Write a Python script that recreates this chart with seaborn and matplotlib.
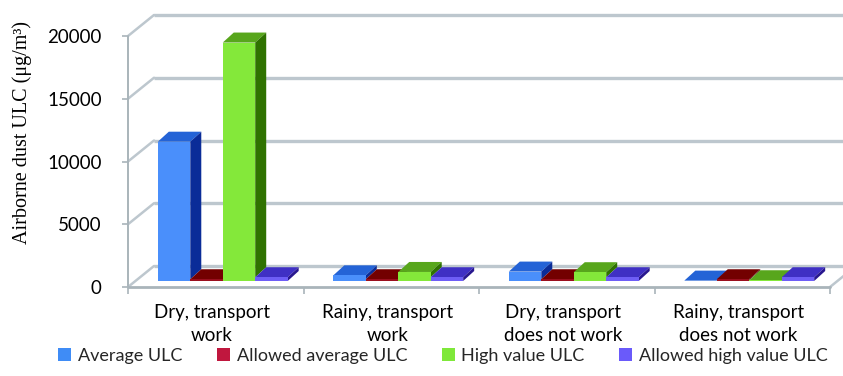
import matplotlib
matplotlib.use("Agg")
import matplotlib.pyplot as plt
import matplotlib.transforms as mtransforms
from matplotlib.patches import Polygon, Patch
import numpy as np
import pandas as pd
import seaborn as sns

# ---- data -------------------------------------------------------------
conditions = ["Dry, transport\nwork", "Rainy, transport\nwork",
              "Dry, transport\ndoes not work", "Rainy, transport\ndoes not work"]
series_names = ["Average ULC", "Allowed average ULC", "High value ULC",
                "Allowed high value ULC"]
average_ulc = [11100, 450, 750, 30]
allowed_average_ulc = [140, 140, 140, 140]
high_value_ulc = [19000, 720, 700, 60]
allowed_high_value_ulc = [300, 300, 300, 300]
y_ticks = [0, 5000, 10000, 15000, 20000]

series_values = [average_ulc, allowed_average_ulc, high_value_ulc,
                 allowed_high_value_ulc]

# ---- colours ----------------------------------------------------------
front_colors = ["#4A8FFB", "#9A0F1E", "#84E83A", "#6E5EF6"]
top_colors = ["#2463D6", "#730000", "#58A61C", "#3F30C4"]
side_colors = ["#0A2C98", "#4E0000", "#2F7200", "#28178F"]
legend_colors = ["#3F8CF6", "#C0173E", "#7FE83A", "#6A5AFA"]
grid_color = "#BDC7CE"
axis_color = "#A9B4BA"

sns.set_theme(style="white")
plt.rcParams["font.family"] = ["Lato", "DejaVu Sans"]

rows = []
for name, vals in zip(series_names, series_values):
    for cond, v in zip(conditions, vals):
        rows.append({"condition": cond, "series": name, "value": v})
df = pd.DataFrame(rows)

W, H = 843, 376
fig = plt.figure(figsize=(W / 100, H / 100), dpi=100)
ax_left, ax_right, ax_zero, ax_top = 128, 830, 287, 36
ax = fig.add_axes([ax_left / W, (H - ax_zero) / H,
                   (ax_right - ax_left) / W, (ax_zero - ax_top) / H])

bar_width = 0.74
sns.barplot(data=df, x="condition", y="value", hue="series",
            order=conditions, hue_order=series_names, palette=front_colors,
            saturation=1, width=bar_width, dodge=True, legend=False,
            linewidth=0, ax=ax)

ax.set_xlim(-0.5, 3.5)
ax.set_ylim(0, 20000)

# data units per pixel
ux = 4.0 / (ax_right - ax_left)
uy = 20000.0 / (ax_zero - ax_top)

# depth of the whole box and of the bars (pixels, oblique projection)
DX, DY = 26 * ux, 21 * uy
OX, OY = 7 * ux, 6 * uy
BX, BY = 11 * ux, 10 * uy

# ---- back wall, side wall and floor lines ----------------------------
for yv in y_ticks:
    ax.plot([-0.5 + DX, 4.2], [yv + DY, yv + DY], color=grid_color,
            lw=2.4, clip_on=False, zorder=1, solid_capstyle="butt")
    ax.plot([-0.5, -0.5 + DX], [yv, yv + DY], color=grid_color,
            lw=1.8, clip_on=False, zorder=1)
ax.plot([3.5, 3.5 + DX], [0, DY], color=grid_color, lw=1.8,
        clip_on=False, zorder=1)

# front axis lines
ax.plot([-0.5, -0.5], [0, 20000], color=axis_color, lw=1.4,
        clip_on=False, zorder=2)
ax.plot([-0.5, 3.5], [0, 0], color=axis_color, lw=2.0,
        clip_on=False, zorder=2)

# ---- 3D faces for every bar ------------------------------------------
sub_w = bar_width / len(series_names)
for p in list(ax.patches):
    x0 = p.get_x()
    w = p.get_width()
    h = p.get_height()
    xc = x0 + w / 2
    cat = int(round(xc))
    idx = int(round((xc - cat) / sub_w + 1.5))
    X0 = x0 + OX
    X1 = X0 + w
    Y0 = OY
    Y1 = Y0 + h
    p.set_x(X0)
    p.set_y(Y0)
    p.set_clip_on(False)
    p.set_zorder(4)
    top = Polygon([(X0, Y1), (X1, Y1), (X1 + BX, Y1 + BY), (X0 + BX, Y1 + BY)],
                  closed=True, facecolor=top_colors[idx], edgecolor="none",
                  clip_on=False, zorder=3)
    ax.add_patch(top)
    hc = series_values[idx + 1][cat] if idx < len(series_names) - 1 else 0
    if h > hc:
        side = Polygon([(X1, Y0 + hc), (X1, Y1), (X1 + BX, Y1 + BY),
                        (X1 + BX, Y0 + hc + BY)],
                       closed=True, facecolor=side_colors[idx],
                       edgecolor="none", clip_on=False, zorder=3)
        ax.add_patch(side)

# ---- ticks and labels ------------------------------------------------
for s in ax.spines.values():
    s.set_visible(False)
ax.set_yticks(y_ticks)
ax.set_yticklabels([str(v) for v in y_ticks])
ax.tick_params(axis="y", left=True, direction="out", length=4, width=1.2,
               color=axis_color, pad=15, labelsize=13.5, labelcolor="#000000")
ax.set_xticks(range(len(conditions)))
ax.set_xticklabels(conditions, linespacing=1.45)
ax.set_xticks([-0.5, 0.5, 1.5, 2.5, 3.5], minor=True)
ax.tick_params(axis="x", which="major", length=0, pad=12, labelsize=13.5,
               labelcolor="#000000")
ax.tick_params(axis="x", which="minor", bottom=True, direction="out",
               length=5, width=1.2, color=axis_color)
shift = mtransforms.ScaledTranslation(-4 / 100, 0, fig.dpi_scale_trans)
for lbl in ax.get_xticklabels():
    lbl.set_transform(lbl.get_transform() + shift)
ax.set_xlabel("")
ax.set_ylabel("")
ax.grid(False)
ax.set_facecolor("none")

fig.text(22 / W, 1 - 132 / H, "Airborne dust ULC (μg/m³)", rotation=90,
         ha="center", va="center", fontsize=14.5,
         family=["Liberation Serif", "DejaVu Serif"], color="#000000")

handles = [Patch(facecolor=c, edgecolor="none", label=n)
           for c, n in zip(legend_colors, series_names)]
fig.legend(handles=handles, loc="center", bbox_to_anchor=(443 / W, 1 - 356 / H),
           ncol=4, frameon=False, fontsize=13, handlelength=0.72,
           handleheight=0.72, handletextpad=0.38, columnspacing=1.9,
           borderpad=0, borderaxespad=0)

fig.savefig("out.png", dpi=100)
